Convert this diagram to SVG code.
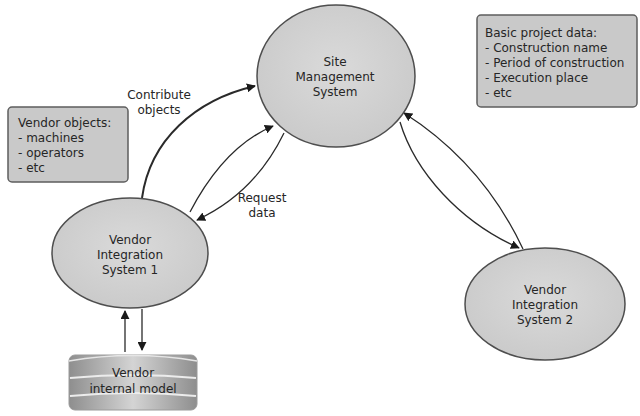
<svg xmlns="http://www.w3.org/2000/svg" width="640" height="416" viewBox="0 0 640 416">
  <defs>
    <style>
      text { font-family: "DejaVu Sans", "Liberation Sans", sans-serif; font-size: 12px; fill: #262626; }
      .mid { text-anchor: middle; }
      .node { fill: url(#nodeFill); stroke: #4e4e4e; stroke-width: 1.5; }
      .note { fill: #c9c9c9; stroke: #5e5e5e; stroke-width: 1.5; }
      .edge { fill: none; stroke: #2a2a2a; stroke-width: 1.3; }
      .edge.bold { stroke-width: 2; }
    </style>
    <radialGradient id="nodeFill" cx="0.5" cy="0.45" r="0.6">
      <stop offset="0" stop-color="#dadada"/>
      <stop offset="1" stop-color="#c9c9c9"/>
    </radialGradient>
    <linearGradient id="drum" x1="0" y1="0" x2="1" y2="0">
      <stop offset="0" stop-color="#8e8e8e"/>
      <stop offset="0.5" stop-color="#d4d4d4"/>
      <stop offset="1" stop-color="#8e8e8e"/>
    </linearGradient>
    <marker id="arrow" viewBox="0 0 10 10" refX="9" refY="5" markerWidth="9" markerHeight="9" markerUnits="userSpaceOnUse" orient="auto">
      <path d="M0,0 L10,5 L0,10 z" fill="#1a1a1a"/>
    </marker>
  </defs>

  <rect width="640" height="416" fill="#ffffff"/>

  <!-- connectors -->
  <g id="connectors">
    <path class="edge bold" d="M142,198 C150,140 195,100 255,86" marker-end="url(#arrow)"/>
    <path class="edge" d="M190,212 C212,170 240,140 273,126" marker-end="url(#arrow)"/>
    <path class="edge" d="M284,133 C265,172 236,202 197,220" marker-end="url(#arrow)"/>
    <path class="edge" d="M523,249 C500,200 462,150 404,113" marker-end="url(#arrow)"/>
    <path class="edge" d="M400,122 C415,172 460,222 519,248" marker-end="url(#arrow)"/>
    <path class="edge" d="M125,352 L125,311" marker-end="url(#arrow)"/>
    <path class="edge" d="M142,309 L142,350" marker-end="url(#arrow)"/>
  </g>

  <!-- edge labels -->
  <g id="edge-labels">
    <text class="mid" x="159" y="99">Contribute</text>
    <text class="mid" x="159" y="114">objects</text>
    <text class="mid" x="262" y="202">Request</text>
    <text class="mid" x="262" y="217">data</text>
  </g>

  <g id="site-management">
    <ellipse class="node" cx="336" cy="76" rx="79" ry="71"/>
    <text class="mid" x="335" y="66">Site</text>
    <text class="mid" x="335" y="81">Management</text>
    <text class="mid" x="335" y="96">System</text>
  </g>

  <g id="vendor-integration-1">
    <ellipse class="node" cx="130" cy="253" rx="78" ry="55"/>
    <text class="mid" x="130" y="244">Vendor</text>
    <text class="mid" x="130" y="259">Integration</text>
    <text class="mid" x="130" y="274">System 1</text>
  </g>

  <g id="vendor-integration-2">
    <ellipse class="node" cx="545" cy="304" rx="80" ry="56"/>
    <text class="mid" x="545" y="294">Vendor</text>
    <text class="mid" x="545" y="309">Integration</text>
    <text class="mid" x="545" y="324">System 2</text>
  </g>

  <g id="vendor-internal-model">
    <rect x="69" y="355" width="128" height="55" rx="6" fill="url(#drum)" stroke="#9a9a9a" stroke-width="1"/>
    <path d="M69,361 Q133,350 197,361" fill="none" stroke="#e6e6e6" stroke-width="1.5"/>
    <path d="M70,378 Q133,372 196,378" fill="none" stroke="#ececec" stroke-width="2"/>
    <path d="M70,396 Q133,390 196,396" fill="none" stroke="#ececec" stroke-width="2"/>
    <text class="mid" x="133" y="377">Vendor</text>
    <text class="mid" x="133" y="393">internal model</text>
  </g>

  <g id="vendor-objects-note">
    <rect class="note" x="8" y="107" width="120" height="75" rx="4"/>
    <text x="18" y="127">Vendor objects:</text>
    <text x="18" y="142">- machines</text>
    <text x="18" y="157">- operators</text>
    <text x="18" y="172">- etc</text>
  </g>

  <g id="project-data-note">
    <rect class="note" x="477" y="15" width="160" height="92" rx="4"/>
    <text x="485" y="37">Basic project data:</text>
    <text x="485" y="52">- Construction name</text>
    <text x="485" y="67">- Period of construction</text>
    <text x="485" y="82">- Execution place</text>
    <text x="485" y="97">- etc</text>
  </g>
</svg>
